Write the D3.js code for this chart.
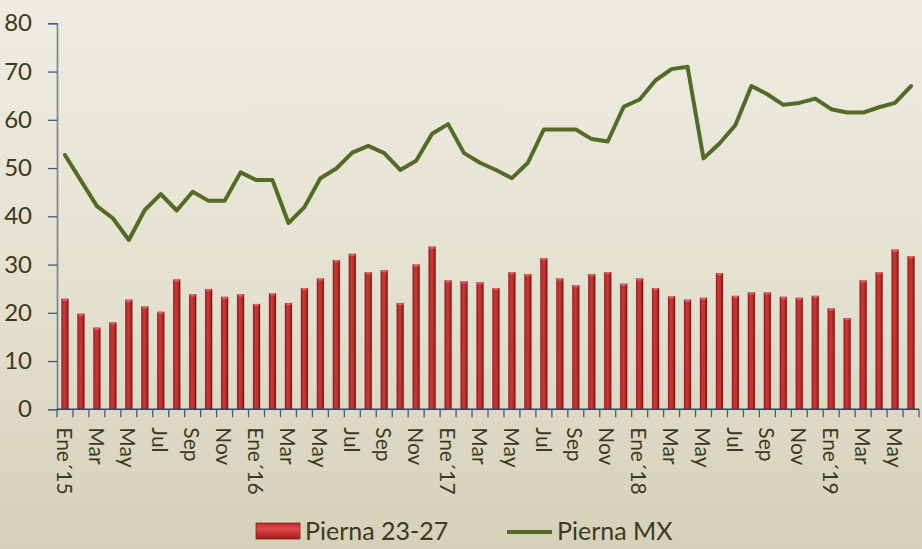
<!DOCTYPE html>
<html>
  <head>
    <meta charset="utf-8">
    <title>Pierna 23-27 vs Pierna MX</title>
    <script src="https://d3js.org/d3.v7.min.js"></script>
    <style>
      html, body { margin: 0; padding: 0; }
      body { width: 922px; height: 549px; overflow: hidden; }
      text { font-family: Lato, "Open Sans", sans-serif; fill: #3b3a1c; }
    </style>
  </head>
  <body>
    <div id="vis"></div>
    <script>
      const width = 922;
      const height = 549;

      // months Ene'15 .. Jun'19
      const tickLabels = [
        "Ene´15", "", "Mar", "", "May", "", "Jul", "", "Sep", "", "Nov", "",
        "Ene´16", "", "Mar", "", "May", "", "Jul", "", "Sep", "", "Nov", "",
        "Ene´17", "", "Mar", "", "May", "", "Jul", "", "Sep", "", "Nov", "",
        "Ene´18", "", "Mar", "", "May", "", "Jul", "", "Sep", "", "Nov", "",
        "Ene´19", "", "Mar", "", "May", ""
      ];
      const months = tickLabels.map((d, i) => "m" + i);

      const pierna2327 = [
        22.9, 19.8, 16.9, 18.0, 22.7, 21.3, 20.2, 26.9, 23.8, 24.9, 23.3, 23.8,
        21.8, 24.0, 22.0, 25.1, 27.1, 30.9, 32.2, 28.4, 28.8, 22.0, 30.0, 33.7,
        26.7, 26.5, 26.3, 25.1, 28.4, 28.0, 31.3, 27.1, 25.7, 28.0, 28.4, 26.0,
        27.1, 25.1, 23.4, 22.7, 23.1, 28.2, 23.5, 24.2, 24.2, 23.3, 23.1, 23.5,
        20.9, 18.9, 26.7, 28.4, 33.1, 31.7
      ];

      const piernaMX = [
        52.7, 47.4, 42.1, 39.6, 35.1, 41.3, 44.6, 41.2, 45.1, 43.2, 43.2, 49.1,
        47.5, 47.5, 38.6, 41.9, 47.9, 49.9, 53.2, 54.6, 53.1, 49.6, 51.5, 57.1,
        59.1, 53.1, 51.1, 49.6, 47.9, 51.1, 58.0, 58.0, 58.0, 56.0, 55.5, 62.7,
        64.2, 68.2, 70.5, 71.0, 52.0, 55.1, 58.9, 67.0, 65.3, 63.1, 63.5, 64.4,
        62.2, 61.5, 61.5, 62.6, 63.5, 67.0
      ];

      const yTicks = [0, 10, 20, 30, 40, 50, 60, 70, 80];

      const margin = { left: 57, right: 3, top: 23.3, bottom: 139.7 };

      const svg = d3.select("#vis")
                    .append("svg")
                    .attr("width", width)
                    .attr("height", height);

      const defs = svg.append("defs");

      // background
      const bg = defs.append("linearGradient")
                     .attr("id", "bg")
                     .attr("x1", 0).attr("y1", 0).attr("x2", 0).attr("y2", 1);
      bg.append("stop").attr("offset", "0%").attr("stop-color", "#eeece2");
      bg.append("stop").attr("offset", "55%").attr("stop-color", "#e4e0cf");
      bg.append("stop").attr("offset", "100%").attr("stop-color", "#d6d0b8");

      // bars look rounded
      const barGrad = defs.append("linearGradient")
                          .attr("id", "bar")
                          .attr("x1", 0).attr("y1", 0).attr("x2", 1).attr("y2", 0);
      barGrad.append("stop").attr("offset", "0%").attr("stop-color", "#8e1c1c");
      barGrad.append("stop").attr("offset", "35%").attr("stop-color", "#cf3535");
      barGrad.append("stop").attr("offset", "65%").attr("stop-color", "#c12e2e");
      barGrad.append("stop").attr("offset", "100%").attr("stop-color", "#6e1212");

      const legGrad = defs.append("linearGradient")
                          .attr("id", "leg")
                          .attr("x1", 0).attr("y1", 0).attr("x2", 0).attr("y2", 1);
      legGrad.append("stop").attr("offset", "0%").attr("stop-color", "#b52a2a");
      legGrad.append("stop").attr("offset", "35%").attr("stop-color", "#e04a4a");
      legGrad.append("stop").attr("offset", "100%").attr("stop-color", "#a01f1f");

      svg.append("rect")
         .attr("width", width)
         .attr("height", height)
         .attr("fill", "url(#bg)");

      // title, cut off at the top edge as in the original
      svg.append("text")
         .attr("x", 452)
         .attr("y", -4)
         .attr("text-anchor", "middle")
         .style("font-size", "22px")
         .style("fill", "#b04040")
         .text("Precio (USD/kg)");

      const x = d3.scaleBand()
                  .domain(months)
                  .range([margin.left, width - margin.right])
                  .paddingInner(0.56)
                  .paddingOuter(0.28);

      const xc = d3.scaleBand()
                   .domain(months)
                   .range([margin.left, width - margin.right]);

      const y = d3.scaleLinear()
                  .domain([0, 80])
                  .range([height - margin.bottom, margin.top]);

      // bars
      svg.append("g")
         .selectAll("rect")
         .data(pierna2327)
         .enter()
         .append("rect")
         .attr("x", (d, i) => x(months[i]))
         .attr("y", d => y(d))
         .attr("width", x.bandwidth())
         .attr("height", d => y(0) - y(d))
         .attr("fill", "url(#bar)")
         .attr("stroke", "#7a1a1a")
         .attr("stroke-opacity", 0.35)
         .attr("stroke-width", 0.6);

      // small highlight on top of each bar
      svg.append("g")
         .selectAll("rect")
         .data(pierna2327)
         .enter()
         .append("rect")
         .attr("x", (d, i) => x(months[i]) + 1)
         .attr("y", d => y(d))
         .attr("width", x.bandwidth() - 2)
         .attr("height", 2)
         .attr("fill", "#ee6a6a")
         .attr("opacity", 0.8);

      // line
      const line = d3.line()
                     .x((d, i) => xc(months[i]) + xc.bandwidth() / 2)
                     .y(d => y(d));

      svg.append("path")
         .datum(piernaMX)
         .attr("d", line)
         .attr("fill", "none")
         .attr("stroke", "#536b25")
         .attr("stroke-width", 4)
         .attr("stroke-linejoin", "round")
         .attr("stroke-linecap", "round");

      // y axis
      const yAxis = svg.append("g")
                       .attr("transform", "translate(" + margin.left + ",0)")
                       .call(d3.axisLeft(y).tickValues(yTicks).tickSize(9).tickPadding(16));
      yAxis.select(".domain").attr("stroke", "#6d7f9b").attr("stroke-width", 1.6);
      yAxis.selectAll(".tick line").attr("stroke", "#445a7c").attr("stroke-width", 1.3);
      yAxis.selectAll(".tick text")
           .style("font-size", "24px")
           .style("font-family", "Lato, sans-serif")
           .attr("fill", "#3b3a1c");

      // x axis: ticks at month boundaries
      const bounds = months.map(m => xc(m)).concat([xc(months[months.length - 1]) + xc.bandwidth()]);
      const xg = svg.append("g");
      xg.append("line")
        .attr("x1", margin.left)
        .attr("x2", width - margin.right)
        .attr("y1", y(0))
        .attr("y2", y(0))
        .attr("stroke", "#2f4468")
        .attr("stroke-width", 1.6);
      xg.selectAll(".xt")
        .data(bounds)
        .enter()
        .append("line")
        .attr("class", "xt")
        .attr("x1", d => d)
        .attr("x2", d => d)
        .attr("y1", y(0))
        .attr("y2", y(0) + 8)
        .attr("stroke", "#445a7c")
        .attr("stroke-width", 1.3);

      xg.selectAll(".xl")
        .data(tickLabels)
        .enter()
        .append("text")
        .attr("class", "xl")
        .attr("transform", (d, i) => "translate(" + (xc(months[i]) + xc.bandwidth() / 2 - 1) + "," + (y(0) + 18) + ") rotate(90)")
        .attr("dy", "0.35em")
        .style("font-size", "21px")
        .text(d => d);

      // legend
      const legend = svg.append("g");
      legend.append("rect")
            .attr("x", 256)
            .attr("y", 523)
            .attr("width", 44)
            .attr("height", 16)
            .attr("fill", "url(#leg)")
            .attr("stroke", "#8a2020")
            .attr("stroke-width", 0.8);
      legend.append("text")
            .attr("x", 305)
            .attr("y", 531)
            .attr("dy", "0.36em")
            .style("font-size", "25px")
            .text("Pierna 23-27");
      legend.append("line")
            .attr("x1", 507)
            .attr("x2", 552)
            .attr("y1", 532)
            .attr("y2", 532)
            .attr("stroke", "#536b25")
            .attr("stroke-width", 4);
      legend.append("text")
            .attr("x", 557)
            .attr("y", 531)
            .attr("dy", "0.36em")
            .style("font-size", "25px")
            .text("Pierna MX");
    </script>
  </body>
</html>
